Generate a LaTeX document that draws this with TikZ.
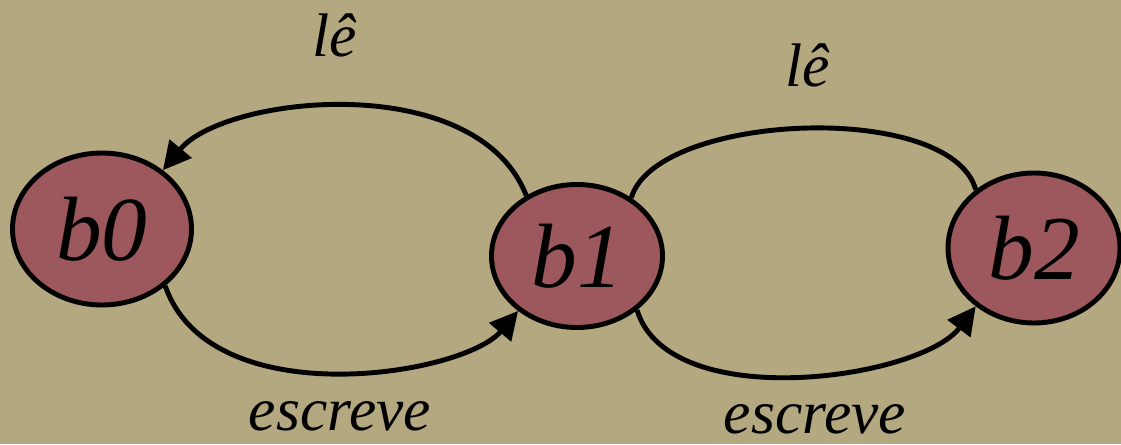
\documentclass[tikz,border=0pt]{standalone}
\usepackage{fontspec}
\setmainfont{Liberation Serif}
\usepackage{tikz}
\usetikzlibrary{positioning,arrows.meta}
\usetikzlibrary{shapes.geometric}

\definecolor{fundo}{RGB}{180,168,128}
\definecolor{estado}{RGB}{156,88,92}

\begin{document}
\begin{tikzpicture}[
    >={Triangle[length=0.56cm,width=0.56cm]},
    state/.style={ellipse, draw, line width=2.8pt, fill=estado, inner sep=0pt,
                  font=\fontsize{52}{60}\selectfont\itshape},
    lbl/.style={font=\fontsize{35}{40}\selectfont\itshape, inner sep=1pt},
    edge/.style={line width=2.8pt}
]

  % sfondo
  \fill[fundo] (0,0) rectangle (22.42,8.88);
  \useasboundingbox (0,0) rectangle (22.42,8.88);

  % nodi
  \node[state, minimum width=3.58cm, minimum height=3.04cm] (b0) at (2.04,4.3) {b0};
  \node[state, minimum width=3.42cm, minimum height=2.86cm] (b1) at (11.54,3.76) {b1};
  \node[state, minimum width=3.44cm, minimum height=3.0cm] (b2) at (20.68,3.92) {b2};

  % archi tra b0 e b1
  \draw[edge,->] (b1.130) .. controls +(-1.0,2.54) and +(1.24,1.5) .. (b0.44);
  \draw[edge,->] (b0.-42) .. controls +(0.9,-2.6) and +(-1.1,-1.3) .. (b1.223);

  % archi tra b1 e b2
  \draw[edge] (b1.47) .. controls +(0.5,1.7) and +(-0.5,1.8) .. (b2.135);
  \draw[edge,->] (b1.-42) .. controls +(0.64,-2.1) and +(-1.1,-1.46) .. (b2.225);

  % etichette
  \node[lbl] (le1) at (6.7,8.18) {lê};
  \node[lbl] (es1) at (6.8,0.56) {escreve};
  \node[lbl] (le2) at (16.16,7.58) {lê};
  \node[lbl] (es2) at (16.3,0.5) {escreve};

\end{tikzpicture}
\end{document}
